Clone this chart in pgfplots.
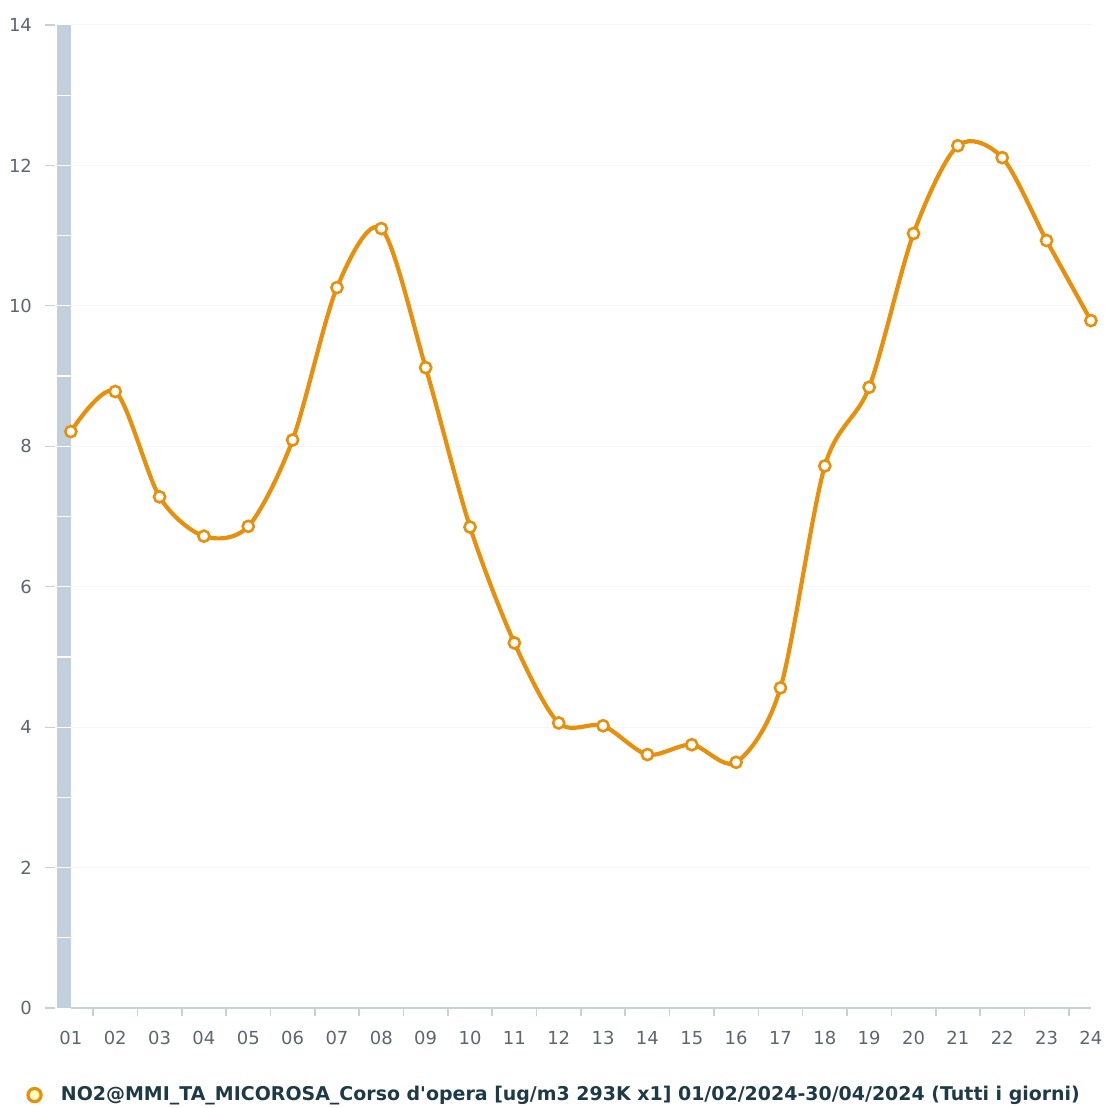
\documentclass[border=0pt]{standalone}
\usepackage{fontspec}
\setmainfont{DejaVu Sans}[Ligatures=TeXOff]
\usepackage{pgfplots}
\pgfplotsset{compat=1.18}
\definecolor{lineor}{HTML}{E8900C}
\definecolor{barblue}{HTML}{C2CFDD}
\definecolor{axgray}{HTML}{C8D0D8}
\definecolor{lblgray}{HTML}{5C6670}
\definecolor{legtxt}{HTML}{1E3A46}
\begin{document}
\begin{tikzpicture}
\path (0,0) rectangle (554.5pt,552.5pt);
\begin{axis}[
  at={(35.5pt,47.5pt)}, anchor=south west,
  scale only axis, width=511pt, height=492.5pt,
  xmin=1, xmax=24, ymin=0, ymax=14,
  clip=false,
  axis lines*=left,
  x axis line style={draw=axgray, line width=1pt},
  y axis line style={draw=none},
  xtick={1,...,24},
  xticklabels={01,02,03,04,05,06,07,08,09,10,11,12,13,14,15,16,17,18,19,20,21,22,23,24},
  ytick={0,2,...,14},
  major tick length=0pt,
  tick align=outside,
  extra x ticks={1.5,2.5,...,23.5},
  extra x tick labels={},
  extra x tick style={major tick length=4pt, grid=none, tick style={draw=axgray, line width=0.8pt}},
  ymajorgrids, grid style={draw=gray!7, line width=0.5pt},
  tick label style={font=\fontsize{9}{10}\selectfont, text=lblgray},
  /pgf/number format/assume math mode=true,
  xticklabel style={yshift=-8pt},
  yticklabel style={xshift=-16pt},
  legend style={at={(rel axis cs:-0.044,-0.0885)}, anchor=west, draw=none, fill=none,
    font=\bfseries\fontsize{9.5}{11}\selectfont, text=legtxt, inner sep=0pt},
  legend cell align=left,
  legend image code/.code={\draw[lineor, line width=1.6pt, fill=yellow!25!white] (3.3pt,0pt) circle (3.3pt);
    \path[draw=none, fill=none] (0,0) rectangle (14.5pt,0.1pt);},
]
\fill[barblue] ([xshift=-7pt]axis cs:1,0) rectangle (axis cs:1,14);
\pgfplotsinvokeforeach{1,...,13}{\draw[white, line width=0.6pt] ([xshift=-7pt]axis cs:1,#1) -- (axis cs:1,#1);}
\pgfplotsinvokeforeach{0,2,...,14}{\draw[axgray, line width=0.6pt] ([xshift=-13pt]axis cs:1,#1) -- ([xshift=-8pt]axis cs:1,#1);}
\addplot[lineor, line width=2.1pt, smooth, tension=0.5, mark=*,
  mark size=2.8pt, mark options={fill=white, draw=lineor, line width=1.3pt}]
  coordinates {
  (1,8.21)(2,8.78)(3,7.28)(4,6.72)(5,6.86)(6,8.09)(7,10.26)(8,11.10)
  (9,9.12)(10,6.85)(11,5.20)(12,4.06)(13,4.02)(14,3.61)(15,3.75)(16,3.50)
  (17,4.56)(18,7.72)(19,8.84)(20,11.03)(21,12.28)(22,12.11)(23,10.93)(24,9.79)
  };
\addlegendentry{NO2@MMI\_TA\_MICOROSA\_Corso d'opera [ug/m3 293K x1] 01/02/2024-30/04/2024 (Tutti i giorni)}
\end{axis}
\end{tikzpicture}
\end{document}
